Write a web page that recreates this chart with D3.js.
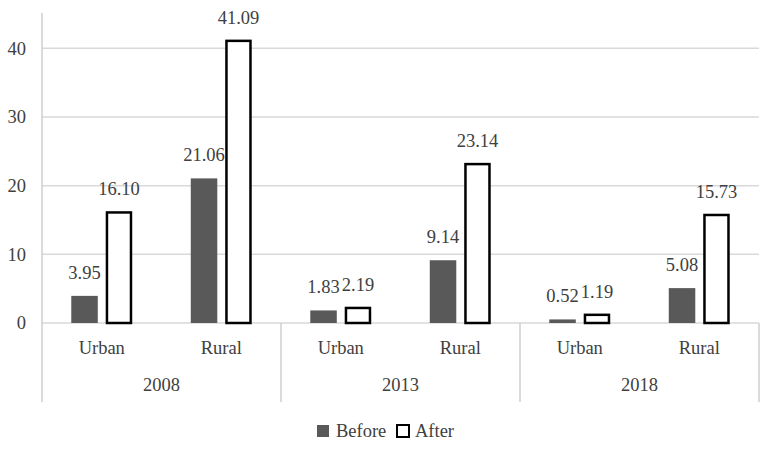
<!DOCTYPE html>
<html>
<head>
<meta charset="utf-8">
<script src="https://cdn.jsdelivr.net/npm/d3@7"></script>
<style>
  body { margin: 0; background: #fff; }
</style>
</head>
<body>
<div id="chart"></div>
<script>
// chart data
const years = ["2008", "2013", "2018"]
const areas = ["Urban", "Rural"]
const seriesNames = ["Before", "After"]
const beforeValues = [3.95, 21.06, 1.83, 9.14, 0.52, 5.08]
const afterValues = [16.10, 41.09, 2.19, 23.14, 1.19, 15.73]
const yTicks = [0, 10, 20, 30, 40]

function drawBarChart() {
    const container = d3.select("#chart")
    container.selectAll("*").remove()

    // constants for chart
    const width = 765
    const height = 453
    const left = 42
    const right = 759
    const top = 14
    const bottom = 323
    const fontSize = "18.5px"
    const fontFamily = "'Liberation Serif'"
    const textColor = "#404040"

    const svg = container.append("svg")
                         .attr("width", width)
                         .attr("height", height)
                         .attr("viewBox", [0, 0, width, height])

    // build rows from the arrays
    const rows = []
    years.forEach((year, i) => {
        areas.forEach((area, j) => {
            const k = i * areas.length + j
            rows.push({year: year, area: area, Before: beforeValues[k], After: afterValues[k]})
        })
    })

    // scales
    const yearScale = d3.scaleBand()
                        .domain(years)
                        .range([left, right])
    const areaScale = d3.scaleBand()
                        .domain(areas)
                        .range([0, yearScale.bandwidth()])
    const seriesScale = d3.scaleBand()
                          .domain(seriesNames)
                          .range([0, areaScale.bandwidth()])
                          .paddingInner(0.23)
                          .paddingOuter(0.85)
    const yScale = d3.scaleLinear()
                     .domain([0, 45])
                     .range([bottom, top])

    // gridlines
    svg.append("g")
       .selectAll("line")
       .data(yTicks)
       .join("line")
       .attr("x1", left)
       .attr("x2", right)
       .attr("y1", d => yScale(d))
       .attr("y2", d => yScale(d))
       .attr("stroke", "#d9d9d9")
       .attr("stroke-width", 1.5)

    // y axis labels
    const yAxis = d3.axisLeft(yScale)
                    .tickValues(yTicks)
                    .tickSize(0)
                    .tickPadding(16)
    svg.append("g")
       .attr("transform", `translate(${left}, 0)`)
       .call(yAxis)
       .call(g => g.select(".domain").remove())
       .selectAll("text")
       .style("font-family", fontFamily)
       .style("font-size", fontSize)
       .attr("fill", textColor)

    // vertical axis and category separators
    const separators = years.map(y => yearScale(y)).concat([right])
    svg.append("g")
       .selectAll("line")
       .data(separators)
       .join("line")
       .attr("x1", d => d)
       .attr("x2", d => d)
       .attr("y1", (d, i) => i === 0 ? top - 1 : bottom)
       .attr("y2", 402)
       .attr("stroke", "#cfcfcf")
       .attr("stroke-width", 1.5)

    // bars
    const groups = svg.append("g")
                      .selectAll("g")
                      .data(rows)
                      .join("g")
                      .attr("transform", d => `translate(${yearScale(d.year) + areaScale(d.area)}, 0)`)

    groups.append("rect")
          .attr("x", seriesScale("Before"))
          .attr("width", seriesScale.bandwidth())
          .attr("y", d => yScale(d.Before))
          .attr("height", d => bottom - yScale(d.Before))
          .attr("fill", "#595959")

    groups.append("rect")
          .attr("x", seriesScale("After") + 1.25)
          .attr("width", seriesScale.bandwidth() - 2.5)
          .attr("y", d => yScale(d.After))
          .attr("height", d => bottom - yScale(d.After))
          .attr("fill", "#fff")
          .attr("stroke", "#000")
          .attr("stroke-width", 2.5)

    // value labels
    seriesNames.forEach(s => {
        groups.append("text")
              .attr("x", seriesScale(s) + seriesScale.bandwidth() / 2)
              .attr("y", d => yScale(d[s]) - 17)
              .attr("text-anchor", "middle")
              .style("font-family", fontFamily)
              .style("font-size", fontSize)
              .attr("fill", textColor)
              .text(d => d[s].toFixed(2))
    })

    // area labels
    groups.append("text")
          .attr("x", areaScale.bandwidth() / 2)
          .attr("y", 354)
          .attr("text-anchor", "middle")
          .style("font-family", fontFamily)
          .style("font-size", fontSize)
          .attr("fill", textColor)
          .text(d => d.area)

    // year labels
    svg.append("g")
       .selectAll("text")
       .data(years)
       .join("text")
       .attr("x", d => yearScale(d) + yearScale.bandwidth() / 2)
       .attr("y", 391)
       .attr("text-anchor", "middle")
       .style("font-family", fontFamily)
       .style("font-size", fontSize)
       .attr("fill", textColor)
       .text(d => d)

    // legend
    const legend = svg.append("g")
                      .attr("transform", "translate(317, 425)")
    legend.append("rect")
          .attr("x", 0)
          .attr("y", 0)
          .attr("width", 12)
          .attr("height", 12)
          .attr("fill", "#595959")
    legend.append("text")
          .attr("x", 19)
          .attr("y", 12)
          .style("font-family", fontFamily)
          .style("font-size", fontSize)
          .attr("fill", textColor)
          .text(seriesNames[0])
    legend.append("rect")
          .attr("x", 80)
          .attr("y", 0)
          .attr("width", 12)
          .attr("height", 12)
          .attr("fill", "#fff")
          .attr("stroke", "#000")
          .attr("stroke-width", 2)
    legend.append("text")
          .attr("x", 98)
          .attr("y", 12)
          .style("font-family", fontFamily)
          .style("font-size", fontSize)
          .attr("fill", textColor)
          .text(seriesNames[1])
}

drawBarChart()
</script>
</body>
</html>
